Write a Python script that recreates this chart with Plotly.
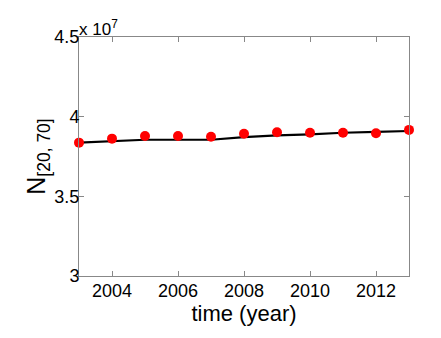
import plotly.graph_objects as go

years = [2003, 2004, 2005, 2006, 2007, 2008, 2009, 2010, 2011, 2012, 2013]
line_vals = [3.837, 3.847, 3.855, 3.855, 3.855, 3.872, 3.883, 3.889, 3.899, 3.904, 3.910]
dot_vals = [3.837, 3.862, 3.879, 3.879, 3.874, 3.893, 3.902, 3.899, 3.899, 3.896, 3.917]
scale = 1e7
y_ticks = [3.0, 3.5, 4.0, 4.5]
y_tick_labels = ["3", "3.5", "4", "4.5"]
x_ticks = [2004, 2006, 2008, 2010, 2012]

fig = go.Figure()
fig.add_trace(go.Scatter(x=years, y=[v * scale for v in line_vals], mode="lines",
                         line=dict(color="black", width=2.2), showlegend=False))
fig.add_trace(go.Scatter(x=years, y=[v * scale for v in dot_vals], mode="markers",
                         marker=dict(color="#ff0000", size=10), showlegend=False,
                         cliponaxis=False))

font = "Liberation Sans, Arial, sans-serif"
fig.update_layout(
    width=433, height=330,
    margin=dict(l=71, r=32, t=29, b=62),
    paper_bgcolor="white", plot_bgcolor="white",
    font=dict(family=font, color="black", size=18),
    xaxis=dict(range=[2003, 2013], tickvals=x_ticks, ticks="inside", ticklen=5,
               tickcolor="#888", showline=True, linecolor="#888", linewidth=1,
               mirror="ticks", showgrid=False, zeroline=False, automargin=False,
               tickfont=dict(size=18), ticklabelstandoff=-2,
               title=dict(text="time (year)", font=dict(size=22), standoff=2)),
    yaxis=dict(range=[3.0 * scale, 4.5 * scale], tickvals=[v * scale for v in y_ticks],
               ticktext=y_tick_labels, ticks="inside", ticklen=5,
               tickcolor="#888", showline=True, linecolor="#888", linewidth=1,
               mirror="ticks", showgrid=False, zeroline=False, automargin=False,
               tickfont=dict(size=18), ticklabelstandoff=-5,
               title=dict(text="N<sub>[20, 70]</sub>", font=dict(size=25), standoff=0)),
    annotations=[dict(text="x 10<sup>7</sup>", xref="paper", yref="paper", x=0.0, y=1.0,
                      xanchor="left", yanchor="bottom", showarrow=False,
                      font=dict(size=17, family=font), xshift=-2, yshift=-4)],
)
fig.write_html("out.html")
